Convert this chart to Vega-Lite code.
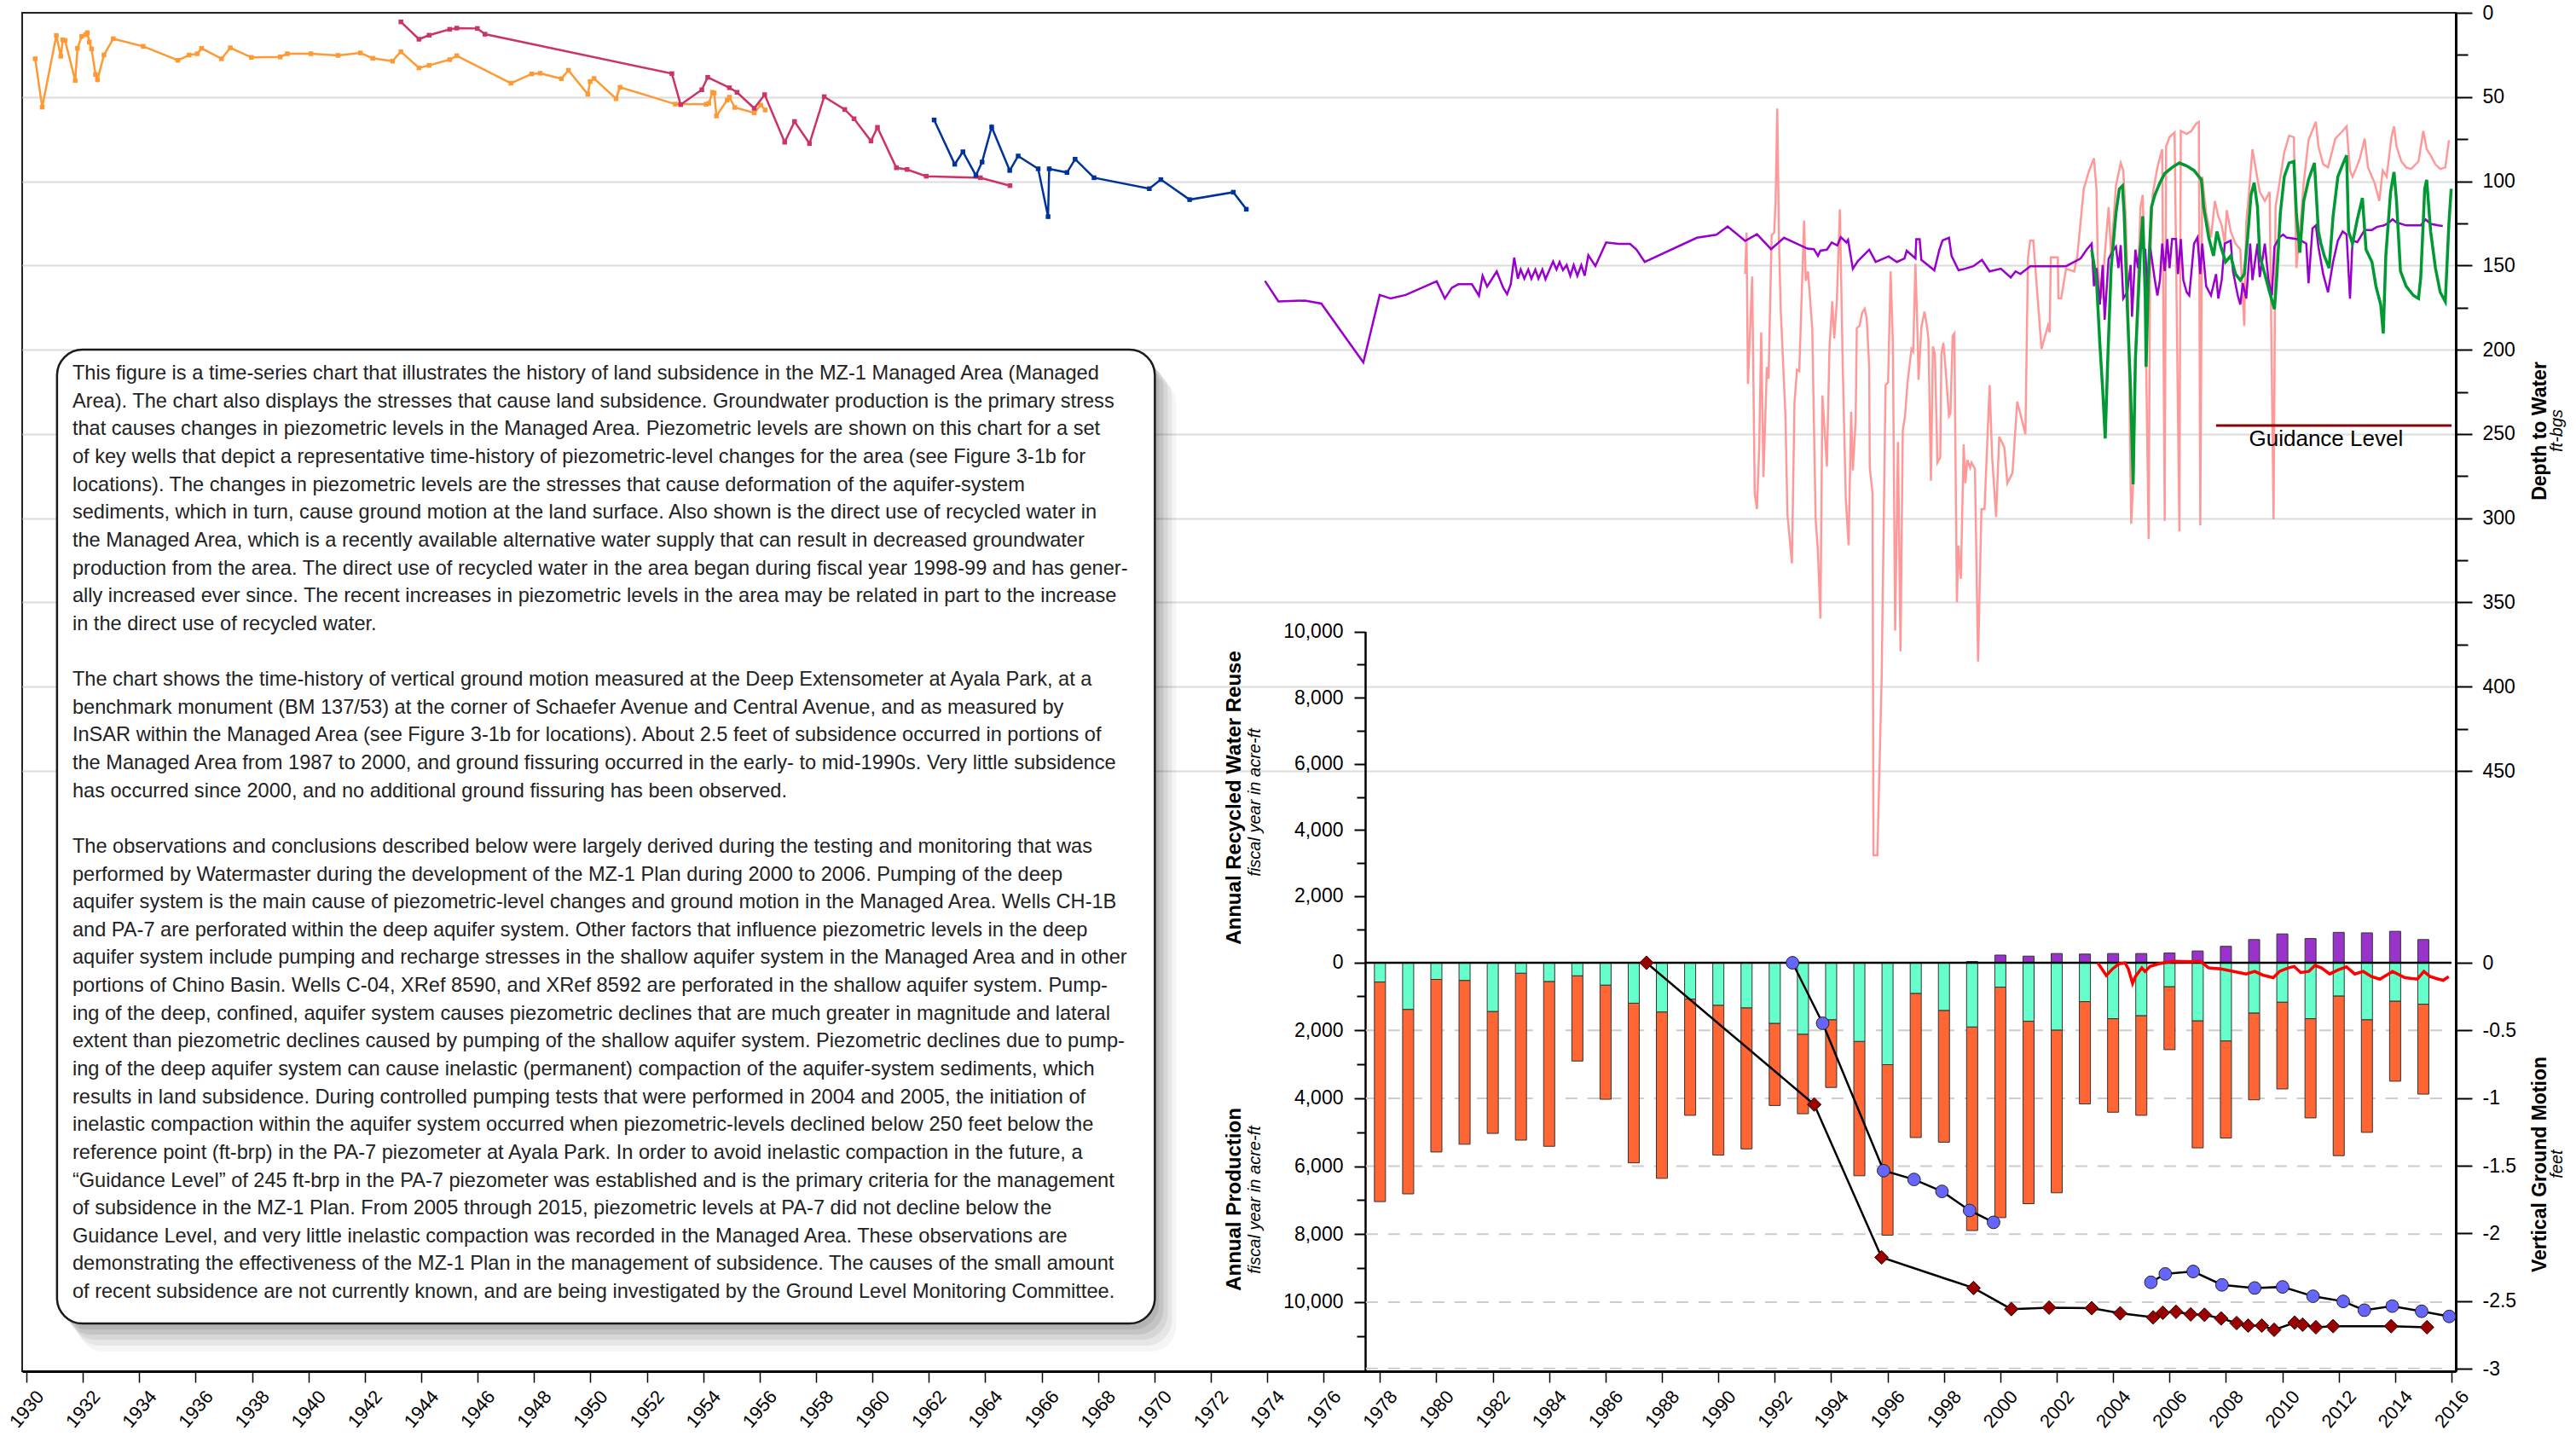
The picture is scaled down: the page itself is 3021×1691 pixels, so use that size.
{
  "$schema": "https://vega.github.io/schema/vega-lite/v6.json",
  "width": 2854,
  "height": 1593,
  "autosize": "none",
  "padding": {"left": 26, "top": 15, "right": 141, "bottom": 83},
  "background": "white",
  "config": {
    "view": {"stroke": "#222", "strokeWidth": 2},
    "font": "Liberation Sans",
    "axis": {"labelFont": "Liberation Sans", "titleFont": "Liberation Sans", "labelColor": "#000", "titleColor": "#000", "domainColor": "#000", "tickColor": "#000"}
  },
  "datasets": {
    "orange": [
      {"yr":1930.31,"d":27.3},{"yr":1930.56,"d":56.0},{"yr":1931.06,"d":13.5},{"yr":1931.22,"d":25.8},{"yr":1931.29,"d":16.0},{"yr":1931.37,"d":16.4},{"yr":1931.73,"d":40.2},{"yr":1931.81,"d":21.1},{"yr":1931.96,"d":14.0},{"yr":1932.10,"d":13.0},{"yr":1932.16,"d":11.8},{"yr":1932.23,"d":17.4},{"yr":1932.31,"d":21.4},{"yr":1932.45,"d":36.6},{"yr":1932.52,"d":39.7},{"yr":1932.75,"d":25.0},{"yr":1933.08,"d":15.4},{"yr":1934.14,"d":19.9},{"yr":1935.37,"d":28.2},{"yr":1935.77,"d":25.1},{"yr":1936.06,"d":24.3},{"yr":1936.21,"d":21.1},{"yr":1936.92,"d":27.3},{"yr":1937.23,"d":20.8},{"yr":1937.98,"d":26.5},{"yr":1939.00,"d":26.2},{"yr":1939.25,"d":24.3},{"yr":1940.09,"d":24.3},{"yr":1941.05,"d":25.3},{"yr":1941.84,"d":23.8},{"yr":1942.28,"d":27.0},{"yr":1942.98,"d":28.7},{"yr":1943.28,"d":23.1},{"yr":1943.92,"d":32.7},{"yr":1944.28,"d":31.2},{"yr":1945.01,"d":27.8},{"yr":1945.26,"d":25.5},{"yr":1947.18,"d":41.8},{"yr":1947.92,"d":36.3},{"yr":1948.22,"d":35.9},{"yr":1948.97,"d":39.1},{"yr":1949.22,"d":34.1},{"yr":1949.91,"d":48.4},{"yr":1949.99,"d":40.8},{"yr":1950.13,"d":39.0},{"yr":1950.91,"d":51.0},{"yr":1951.05,"d":44.2},{"yr":1953.01,"d":54.2},{"yr":1954.10,"d":54.3},{"yr":1954.20,"d":53.7},{"yr":1954.33,"d":47.2},{"yr":1954.39,"d":47.6},{"yr":1954.47,"d":61.2},{"yr":1954.85,"d":51.8},{"yr":1954.93,"d":50.1},{"yr":1955.12,"d":56.2},{"yr":1955.81,"d":59.4},{"yr":1956.04,"d":54.8},{"yr":1956.20,"d":57.7}
    ],
    "crimson": [
      {"yr":1943.28,"d":5.4},{"yr":1943.92,"d":15.7},{"yr":1944.28,"d":13.3},{"yr":1945.01,"d":9.8},{"yr":1945.26,"d":9.1},{"yr":1945.99,"d":9.3},{"yr":1946.26,"d":12.7},{"yr":1952.89,"d":36.1},{"yr":1953.20,"d":54.5},{"yr":1953.95,"d":45.7},{"yr":1954.16,"d":38.3},{"yr":1954.93,"d":44.5},{"yr":1955.20,"d":47.2},{"yr":1955.81,"d":56.7},{"yr":1956.18,"d":48.6},{"yr":1956.89,"d":76.8},{"yr":1957.24,"d":64.5},{"yr":1957.77,"d":77.6},{"yr":1958.29,"d":49.8},{"yr":1959.02,"d":57.4},{"yr":1959.35,"d":62.9},{"yr":1959.95,"d":76.1},{"yr":1960.18,"d":68.0},{"yr":1960.85,"d":92.0},{"yr":1961.23,"d":93.0},{"yr":1961.91,"d":97.0},{"yr":1963.83,"d":97.9},{"yr":1964.88,"d":102.6}
    ],
    "navy": [
      {"yr":1962.19,"d":63.6},{"yr":1962.92,"d":89.9},{"yr":1963.21,"d":82.5},{"yr":1963.67,"d":96.5},{"yr":1963.89,"d":88.6},{"yr":1964.23,"d":67.8},{"yr":1964.87,"d":93.6},{"yr":1965.17,"d":85.0},{"yr":1965.88,"d":92.6},{"yr":1966.23,"d":121.0},{"yr":1966.27,"d":92.6},{"yr":1966.90,"d":94.8},{"yr":1967.19,"d":86.9},{"yr":1967.86,"d":97.9},{"yr":1969.82,"d":104.4},{"yr":1970.23,"d":99.0},{"yr":1971.25,"d":110.9},{"yr":1972.80,"d":106.5},{"yr":1973.26,"d":116.6}
    ],
    "purple": [
      {"yr":1973.92,"d":159.1},{"yr":1974.40,"d":171.3},{"yr":1975.34,"d":170.8},{"yr":1975.92,"d":172.6},{"yr":1977.41,"d":207.5},{"yr":1977.99,"d":167.5},{"yr":1978.38,"d":169.6},{"yr":1978.91,"d":167.5},{"yr":1980.01,"d":159.4},{"yr":1980.30,"d":169.6},{"yr":1980.55,"d":163.2},{"yr":1980.78,"d":161.1},{"yr":1981.07,"d":161.1},{"yr":1981.26,"d":161.1},{"yr":1981.51,"d":167.9},{"yr":1981.64,"d":156.1},{"yr":1981.80,"d":162.5},{"yr":1982.14,"d":153.5},{"yr":1982.37,"d":163.2},{"yr":1982.51,"d":167.0},{"yr":1982.64,"d":161.1},{"yr":1982.76,"d":145.3},{"yr":1982.89,"d":157.8},{"yr":1982.99,"d":152.4},{"yr":1983.12,"d":157.8},{"yr":1983.26,"d":152.4},{"yr":1983.37,"d":157.8},{"yr":1983.51,"d":152.4},{"yr":1983.62,"d":157.8},{"yr":1983.76,"d":152.4},{"yr":1983.87,"d":158.1},{"yr":1984.14,"d":147.6},{"yr":1984.26,"d":152.4},{"yr":1984.37,"d":147.9},{"yr":1984.49,"d":152.7},{"yr":1984.62,"d":149.7},{"yr":1984.75,"d":156.1},{"yr":1984.87,"d":149.7},{"yr":1985.00,"d":156.1},{"yr":1985.14,"d":149.7},{"yr":1985.26,"d":156.1},{"yr":1985.39,"d":143.9},{"yr":1985.64,"d":150.3},{"yr":1986.02,"d":136.3},{"yr":1986.47,"d":137.2},{"yr":1986.87,"d":137.2},{"yr":1987.10,"d":140.6},{"yr":1987.39,"d":147.9},{"yr":1989.24,"d":133.5},{"yr":1989.93,"d":131.7},{"yr":1990.33,"d":126.8},{"yr":1990.95,"d":135.4},{"yr":1991.37,"d":131.4},{"yr":1991.87,"d":140.3},{"yr":1992.33,"d":133.5},{"yr":1993.16,"d":140.0},{"yr":1993.39,"d":140.3},{"yr":1993.53,"d":144.3},{"yr":1993.62,"d":141.2},{"yr":1993.85,"d":140.6},{"yr":1994.02,"d":136.3},{"yr":1994.22,"d":138.1},{"yr":1994.34,"d":133.2},{"yr":1994.54,"d":136.3},{"yr":1994.60,"d":134.8},{"yr":1994.77,"d":151.9},{"yr":1994.95,"d":147.3},{"yr":1995.35,"d":140.6},{"yr":1995.58,"d":147.9},{"yr":1996.04,"d":144.6},{"yr":1996.33,"d":147.9},{"yr":1996.60,"d":145.8},{"yr":1996.68,"d":141.2},{"yr":1996.99,"d":145.8},{"yr":1997.02,"d":134.4},{"yr":1997.14,"d":134.4},{"yr":1997.20,"d":146.7},{"yr":1997.66,"d":152.9},{"yr":1997.83,"d":141.2},{"yr":1997.95,"d":135.1},{"yr":1998.18,"d":133.5},{"yr":1998.27,"d":144.3},{"yr":1998.52,"d":152.9},{"yr":1998.75,"d":151.9},{"yr":1999.04,"d":150.4},{"yr":1999.35,"d":146.7},{"yr":1999.62,"d":153.5},{"yr":2000.02,"d":151.9},{"yr":2000.37,"d":157.1},{"yr":2000.54,"d":153.5},{"yr":2000.71,"d":155.0},{"yr":2001.06,"d":150.4},{"yr":2002.33,"d":150.4},{"yr":2002.85,"d":145.8},{"yr":2003.06,"d":140.6},{"yr":2003.24,"d":137.0},{"yr":2003.32,"d":162.3},{"yr":2003.41,"d":151.5},{"yr":2003.53,"d":173.2},{"yr":2003.63,"d":149.7},{"yr":2003.70,"d":182.2},{"yr":2003.84,"d":146.1},{"yr":2003.98,"d":141.5},{"yr":2004.10,"d":138.8},{"yr":2004.19,"d":151.5},{"yr":2004.27,"d":137.9},{"yr":2004.36,"d":169.6},{"yr":2004.50,"d":165.9},{"yr":2004.62,"d":149.7},{"yr":2004.67,"d":180.4},{"yr":2004.79,"d":140.6},{"yr":2004.88,"d":151.5},{"yr":2004.96,"d":138.8},{"yr":2005.14,"d":140.6},{"yr":2005.23,"d":167.8},{"yr":2005.31,"d":138.8},{"yr":2005.48,"d":158.7},{"yr":2005.57,"d":167.8},{"yr":2005.66,"d":158.7},{"yr":2005.74,"d":137.0},{"yr":2005.83,"d":153.3},{"yr":2005.92,"d":134.3},{"yr":2006.00,"d":151.5},{"yr":2006.09,"d":134.3},{"yr":2006.23,"d":134.3},{"yr":2006.30,"d":155.1},{"yr":2006.40,"d":134.3},{"yr":2006.49,"d":158.7},{"yr":2006.61,"d":165.9},{"yr":2006.70,"d":167.8},{"yr":2006.87,"d":137.0},{"yr":2006.99,"d":133.4},{"yr":2007.09,"d":155.1},{"yr":2007.16,"d":137.0},{"yr":2007.30,"d":162.3},{"yr":2007.47,"d":167.8},{"yr":2007.65,"d":155.1},{"yr":2007.73,"d":169.6},{"yr":2007.85,"d":158.7},{"yr":2007.96,"d":137.0},{"yr":2008.17,"d":135.2},{"yr":2008.25,"d":153.3},{"yr":2008.42,"d":167.8},{"yr":2008.51,"d":173.2},{"yr":2008.60,"d":160.5},{"yr":2008.72,"d":169.6},{"yr":2008.86,"d":137.0},{"yr":2008.94,"d":158.7},{"yr":2009.12,"d":137.0},{"yr":2009.20,"d":156.9},{"yr":2009.38,"d":137.0},{"yr":2009.51,"d":158.7},{"yr":2009.63,"d":167.8},{"yr":2009.72,"d":138.8},{"yr":2009.89,"d":133.4},{"yr":2010.03,"d":131.6},{"yr":2010.15,"d":133.4},{"yr":2010.50,"d":134.3},{"yr":2010.67,"d":135.2},{"yr":2010.85,"d":137.0},{"yr":2010.93,"d":160.5},{"yr":2011.07,"d":128.0},{"yr":2011.19,"d":126.2},{"yr":2011.28,"d":138.8},{"yr":2011.45,"d":155.1},{"yr":2011.62,"d":165.9},{"yr":2011.80,"d":147.9},{"yr":2011.97,"d":135.2},{"yr":2012.14,"d":129.8},{"yr":2012.28,"d":131.6},{"yr":2012.40,"d":169.6},{"yr":2012.49,"d":135.2},{"yr":2012.66,"d":136.1},{"yr":2012.92,"d":128.9},{"yr":2013.18,"d":128.9},{"yr":2013.35,"d":127.1},{"yr":2013.61,"d":126.2},{"yr":2013.79,"d":124.4},{"yr":2013.91,"d":122.6},{"yr":2014.05,"d":124.4},{"yr":2014.39,"d":126.2},{"yr":2014.74,"d":126.2},{"yr":2014.91,"d":126.2},{"yr":2015.08,"d":122.6},{"yr":2015.26,"d":125.3},{"yr":2015.52,"d":126.2},{"yr":2015.69,"d":126.5}
    ],
    "pink": [
      {"yr":1990.95,"d":155.0},{"yr":1991.00,"d":130.5},{"yr":1991.05,"d":220.3},{"yr":1991.20,"d":156.5},{"yr":1991.29,"d":285.4},{"yr":1991.37,"d":294.6},{"yr":1991.45,"d":257.8},{"yr":1991.52,"d":189.7},{"yr":1991.60,"d":275.6},{"yr":1991.72,"d":210.2},{"yr":1991.78,"d":217.3},{"yr":1991.89,"d":132.0},{"yr":1991.98,"d":130.5},{"yr":1992.03,"d":112.1},{"yr":1992.09,"d":56.8},{"yr":1992.15,"d":135.1},{"yr":1992.21,"d":175.0},{"yr":1992.38,"d":239.4},{"yr":1992.45,"d":297.7},{"yr":1992.61,"d":326.8},{"yr":1992.70,"d":231.7},{"yr":1992.79,"d":211.8},{"yr":1992.87,"d":212.7},{"yr":1993.04,"d":123.4},{"yr":1993.10,"d":159.0},{"yr":1993.18,"d":153.5},{"yr":1993.33,"d":187.2},{"yr":1993.45,"d":300.7},{"yr":1993.53,"d":319.1},{"yr":1993.62,"d":359.6},{"yr":1993.69,"d":227.1},{"yr":1993.85,"d":269.4},{"yr":1993.94,"d":199.5},{"yr":1994.04,"d":171.3},{"yr":1994.11,"d":193.3},{"yr":1994.20,"d":171.9},{"yr":1994.31,"d":116.7},{"yr":1994.41,"d":208.7},{"yr":1994.52,"d":288.4},{"yr":1994.62,"d":316.1},{"yr":1994.71,"d":236.9},{"yr":1994.77,"d":271.6},{"yr":1994.87,"d":241.8},{"yr":1994.91,"d":187.2},{"yr":1995.01,"d":185.7},{"yr":1995.10,"d":178.0},{"yr":1995.19,"d":175.6},{"yr":1995.26,"d":181.1},{"yr":1995.35,"d":210.2},{"yr":1995.37,"d":270.0},{"yr":1995.47,"d":285.4},{"yr":1995.50,"d":500.1},{"yr":1995.64,"d":500.1},{"yr":1995.79,"d":395.8},{"yr":1995.93,"d":221.0},{"yr":1996.02,"d":219.4},{"yr":1996.11,"d":153.5},{"yr":1996.19,"d":196.4},{"yr":1996.27,"d":366.7},{"yr":1996.37,"d":254.7},{"yr":1996.46,"d":379.0},{"yr":1996.54,"d":248.0},{"yr":1996.62,"d":239.4},{"yr":1996.71,"d":219.4},{"yr":1996.85,"d":199.5},{"yr":1996.91,"d":201.0},{"yr":1996.99,"d":148.9},{"yr":1997.06,"d":188.8},{"yr":1997.10,"d":217.9},{"yr":1997.20,"d":186.6},{"yr":1997.31,"d":177.4},{"yr":1997.38,"d":184.2},{"yr":1997.45,"d":193.3},{"yr":1997.54,"d":277.7},{"yr":1997.61,"d":198.0},{"yr":1997.68,"d":202.6},{"yr":1997.77,"d":267.0},{"yr":1997.87,"d":263.9},{"yr":1997.91,"d":202.6},{"yr":1997.98,"d":195.8},{"yr":1998.04,"d":207.2},{"yr":1998.18,"d":239.4},{"yr":1998.23,"d":237.8},{"yr":1998.31,"d":191.8},{"yr":1998.37,"d":190.3},{"yr":1998.41,"d":262.4},{"yr":1998.46,"d":349.8},{"yr":1998.51,"d":316.1},{"yr":1998.60,"d":336.0},{"yr":1998.70,"d":256.2},{"yr":1998.76,"d":279.2},{"yr":1998.83,"d":265.4},{"yr":1998.93,"d":270.0},{"yr":1998.98,"d":267.0},{"yr":1999.10,"d":270.7},{"yr":1999.21,"d":385.1},{"yr":1999.33,"d":294.6},{"yr":1999.44,"d":294.6},{"yr":1999.62,"d":221.0},{"yr":1999.71,"d":263.9},{"yr":1999.85,"d":299.2},{"yr":1999.96,"d":251.6},{"yr":2000.14,"d":257.8},{"yr":2000.25,"d":279.2},{"yr":2000.43,"d":273.1},{"yr":2000.60,"d":230.8},{"yr":2000.89,"d":250.1},{"yr":2000.98,"d":145.8},{"yr":2001.06,"d":135.1},{"yr":2001.17,"d":135.1},{"yr":2001.46,"d":199.5},{"yr":2001.69,"d":185.7},{"yr":2001.75,"d":189.7},{"yr":2001.79,"d":145.2},{"yr":2002.04,"d":145.2},{"yr":2002.06,"d":169.4},{"yr":2002.16,"d":169.4},{"yr":2002.33,"d":151.9},{"yr":2002.62,"d":153.5},{"yr":2002.73,"d":144.3},{"yr":2002.96,"d":104.4},{"yr":2003.15,"d":93.6},{"yr":2003.32,"d":86.4},{"yr":2003.41,"d":104.5},{"yr":2003.46,"d":151.5},{"yr":2003.58,"d":169.6},{"yr":2003.84,"d":115.3},{"yr":2003.93,"d":144.3},{"yr":2004.10,"d":102.7},{"yr":2004.27,"d":89.1},{"yr":2004.36,"d":93.6},{"yr":2004.45,"d":122.6},{"yr":2004.53,"d":169.6},{"yr":2004.64,"d":303.3},{"yr":2004.71,"d":279.9},{"yr":2004.79,"d":205.7},{"yr":2004.97,"d":115.3},{"yr":2005.05,"d":108.1},{"yr":2005.14,"d":169.6},{"yr":2005.26,"d":312.4},{"yr":2005.31,"d":151.5},{"yr":2005.40,"d":108.1},{"yr":2005.57,"d":91.8},{"yr":2005.74,"d":81.0},{"yr":2005.83,"d":301.5},{"yr":2005.88,"d":79.2},{"yr":2006.00,"d":73.8},{"yr":2006.18,"d":71.0},{"yr":2006.35,"d":307.9},{"yr":2006.40,"d":70.1},{"yr":2006.61,"d":71.9},{"yr":2006.78,"d":70.1},{"yr":2006.95,"d":65.6},{"yr":2007.04,"d":64.7},{"yr":2007.09,"d":304.2},{"yr":2007.16,"d":97.3},{"yr":2007.30,"d":118.9},{"yr":2007.47,"d":133.4},{"yr":2007.61,"d":111.7},{"yr":2007.73,"d":120.8},{"yr":2007.85,"d":126.2},{"yr":2007.96,"d":137.0},{"yr":2008.03,"d":117.1},{"yr":2008.17,"d":129.8},{"yr":2008.34,"d":137.0},{"yr":2008.51,"d":140.6},{"yr":2008.65,"d":185.8},{"yr":2008.72,"d":124.4},{"yr":2008.82,"d":106.3},{"yr":2008.94,"d":81.0},{"yr":2009.03,"d":90.0},{"yr":2009.20,"d":106.3},{"yr":2009.38,"d":111.7},{"yr":2009.55,"d":106.3},{"yr":2009.69,"d":300.6},{"yr":2009.76,"d":115.3},{"yr":2009.90,"d":100.9},{"yr":2010.07,"d":82.8},{"yr":2010.24,"d":72.9},{"yr":2010.41,"d":73.8},{"yr":2010.50,"d":151.5},{"yr":2010.62,"d":129.8},{"yr":2010.76,"d":100.9},{"yr":2010.93,"d":75.6},{"yr":2011.19,"d":64.7},{"yr":2011.28,"d":79.2},{"yr":2011.45,"d":90.0},{"yr":2011.62,"d":91.8},{"yr":2011.88,"d":74.7},{"yr":2012.14,"d":70.1},{"yr":2012.28,"d":67.4},{"yr":2012.40,"d":93.6},{"yr":2012.49,"d":97.3},{"yr":2012.63,"d":91.8},{"yr":2012.75,"d":86.4},{"yr":2012.92,"d":74.7},{"yr":2013.04,"d":91.8},{"yr":2013.27,"d":100.9},{"yr":2013.44,"d":111.7},{"yr":2013.56,"d":93.6},{"yr":2013.70,"d":97.3},{"yr":2013.87,"d":73.8},{"yr":2013.96,"d":67.4},{"yr":2014.05,"d":79.2},{"yr":2014.22,"d":88.2},{"yr":2014.39,"d":91.8},{"yr":2014.57,"d":92.7},{"yr":2014.83,"d":88.2},{"yr":2015.00,"d":70.1},{"yr":2015.12,"d":81.0},{"yr":2015.26,"d":84.6},{"yr":2015.43,"d":90.0},{"yr":2015.60,"d":92.7},{"yr":2015.78,"d":91.8},{"yr":2015.91,"d":75.6}
    ],
    "green": [
      {"yr":2003.24,"d":140.6},{"yr":2003.41,"d":158.7},{"yr":2003.53,"d":196.7},{"yr":2003.63,"d":223.8},{"yr":2003.72,"d":252.7},{"yr":2003.81,"d":205.7},{"yr":2003.93,"d":151.5},{"yr":2004.10,"d":118.9},{"yr":2004.22,"d":104.5},{"yr":2004.33,"d":102.7},{"yr":2004.39,"d":118.9},{"yr":2004.50,"d":173.2},{"yr":2004.62,"d":223.8},{"yr":2004.71,"d":279.9},{"yr":2004.79,"d":205.7},{"yr":2004.97,"d":140.6},{"yr":2005.05,"d":120.8},{"yr":2005.14,"d":169.6},{"yr":2005.17,"d":210.2},{"yr":2005.26,"d":151.5},{"yr":2005.36,"d":115.3},{"yr":2005.48,"d":108.1},{"yr":2005.66,"d":100.9},{"yr":2005.83,"d":95.4},{"yr":2006.09,"d":91.8},{"yr":2006.35,"d":89.1},{"yr":2006.61,"d":90.9},{"yr":2006.87,"d":93.6},{"yr":2007.13,"d":99.1},{"yr":2007.21,"d":115.3},{"yr":2007.39,"d":133.4},{"yr":2007.56,"d":144.3},{"yr":2007.68,"d":129.8},{"yr":2007.82,"d":138.8},{"yr":2007.99,"d":147.9},{"yr":2008.17,"d":144.3},{"yr":2008.34,"d":155.1},{"yr":2008.51,"d":158.7},{"yr":2008.65,"d":155.1},{"yr":2008.77,"d":133.4},{"yr":2008.89,"d":108.1},{"yr":2009.00,"d":100.9},{"yr":2009.12,"d":115.3},{"yr":2009.20,"d":144.3},{"yr":2009.38,"d":155.1},{"yr":2009.55,"d":165.9},{"yr":2009.72,"d":175.9},{"yr":2009.81,"d":155.1},{"yr":2009.93,"d":118.9},{"yr":2010.07,"d":97.3},{"yr":2010.24,"d":89.1},{"yr":2010.41,"d":88.2},{"yr":2010.50,"d":118.9},{"yr":2010.62,"d":142.4},{"yr":2010.76,"d":111.7},{"yr":2010.93,"d":99.1},{"yr":2011.14,"d":89.1},{"yr":2011.28,"d":129.8},{"yr":2011.37,"d":137.0},{"yr":2011.49,"d":144.3},{"yr":2011.66,"d":151.5},{"yr":2011.80,"d":120.8},{"yr":2011.97,"d":97.3},{"yr":2012.14,"d":90.0},{"yr":2012.28,"d":84.6},{"yr":2012.35,"d":129.8},{"yr":2012.49,"d":137.0},{"yr":2012.66,"d":122.6},{"yr":2012.84,"d":109.9},{"yr":2012.97,"d":140.6},{"yr":2013.18,"d":147.9},{"yr":2013.32,"d":162.3},{"yr":2013.49,"d":173.2},{"yr":2013.58,"d":190.4},{"yr":2013.67,"d":144.3},{"yr":2013.84,"d":106.3},{"yr":2013.96,"d":94.5},{"yr":2014.05,"d":111.7},{"yr":2014.19,"d":153.3},{"yr":2014.39,"d":162.3},{"yr":2014.65,"d":167.8},{"yr":2014.83,"d":169.6},{"yr":2014.91,"d":156.9},{"yr":2015.05,"d":104.5},{"yr":2015.12,"d":99.1},{"yr":2015.26,"d":129.8},{"yr":2015.43,"d":151.5},{"yr":2015.60,"d":165.9},{"yr":2015.78,"d":171.4},{"yr":2015.91,"d":124.4},{"yr":2015.99,"d":104.5}
    ],
    "prod": [
      {"fy":1978,"a":578,"t":7042},{"fy":1979,"a":1384,"t":6814},{"fy":1980,"a":502,"t":5582},{"fy":1981,"a":532,"t":5354},{"fy":1982,"a":1445,"t":5034},{"fy":1983,"a":319,"t":5232},{"fy":1984,"a":563,"t":5414},{"fy":1985,"a":395,"t":2905},{"fy":1986,"a":669,"t":4030},{"fy":1987,"a":1202,"t":5901},{"fy":1988,"a":1460,"t":6357},{"fy":1989,"a":1080,"t":4502},{"fy":1990,"a":1262,"t":5673},{"fy":1991,"a":1338,"t":5490},{"fy":1992,"a":1795,"t":4213},{"fy":1993,"a":2114,"t":4456},{"fy":1994,"a":1688,"t":3681},{"fy":1995,"a":2327,"t":6281},{"fy":1996,"a":3011,"t":8030},{"fy":1997,"a":913,"t":5156},{"fy":1998,"a":1414,"t":5293},{"fy":1999,"a":1901,"t":7893},{"fy":2000,"a":730,"t":7513},{"fy":2001,"a":1734,"t":7103},{"fy":2002,"a":1992,"t":6783},{"fy":2003,"a":1156,"t":4167},{"fy":2004,"a":1658,"t":4411},{"fy":2005,"a":1567,"t":4502},{"fy":2006,"a":715,"t":2570},{"fy":2007,"a":1719,"t":5460},{"fy":2008,"a":2312,"t":5171},{"fy":2009,"a":1490,"t":4046},{"fy":2010,"a":1171,"t":3726},{"fy":2011,"a":1658,"t":4578},{"fy":2012,"a":989,"t":5688},{"fy":2013,"a":1688,"t":5004},{"fy":2014,"a":1141,"t":3498},{"fy":2015,"a":1232,"t":3878}
    ],
    "recy": [
      {"fy":1999,"r":25},{"fy":2000,"r":219},{"fy":2001,"r":188},{"fy":2002,"r":266},{"fy":2003,"r":250},{"fy":2004,"r":266},{"fy":2005,"r":266},{"fy":2006,"r":281},{"fy":2007,"r":344},{"fy":2008,"r":484},{"fy":2009,"r":688},{"fy":2010,"r":859},{"fy":2011,"r":719},{"fy":2012,"r":906},{"fy":2013,"r":891},{"fy":2014,"r":938},{"fy":2015,"r":688}
    ],
    "insar": [
      {"yr":2003.46,"g":-0.001},{"yr":2003.76,"g":-0.094},{"yr":2003.98,"g":-0.045},{"yr":2004.20,"g":-0.008},{"yr":2004.42,"g":-0.001},{"yr":2004.54,"g":-0.045},{"yr":2004.69,"g":-0.152},{"yr":2004.79,"g":-0.102},{"yr":2005.02,"g":-0.038},{"yr":2005.13,"g":-0.064},{"yr":2005.31,"g":-0.027},{"yr":2005.61,"g":-0.008},{"yr":2005.90,"g":0.003},{"yr":2006.20,"g":0.011},{"yr":2006.79,"g":0.008},{"yr":2007.09,"g":0.011},{"yr":2007.39,"g":-0.038},{"yr":2007.83,"g":-0.045},{"yr":2008.28,"g":-0.064},{"yr":2008.72,"g":-0.083},{"yr":2009.02,"g":-0.064},{"yr":2009.31,"g":-0.091},{"yr":2009.68,"g":-0.110},{"yr":2009.90,"g":-0.064},{"yr":2010.20,"g":-0.038},{"yr":2010.42,"g":-0.027},{"yr":2010.65,"g":-0.072},{"yr":2010.94,"g":-0.064},{"yr":2011.16,"g":-0.019},{"yr":2011.39,"g":-0.038},{"yr":2011.68,"g":-0.083},{"yr":2011.98,"g":-0.053},{"yr":2012.27,"g":-0.030},{"yr":2012.57,"g":-0.083},{"yr":2012.87,"g":-0.064},{"yr":2013.16,"g":-0.102},{"yr":2013.46,"g":-0.121},{"yr":2013.61,"g":-0.102},{"yr":2013.91,"g":-0.064},{"yr":2014.35,"g":-0.110},{"yr":2014.79,"g":-0.121},{"yr":2015.02,"g":-0.064},{"yr":2015.24,"g":-0.102},{"yr":2015.54,"g":-0.121},{"yr":2015.71,"g":-0.129},{"yr":2015.90,"g":-0.102}
    ],
    "ext": [
      {"yr":1987.45,"g":0},{"yr":1993.40,"g":-1.047},{"yr":1995.79,"g":-2.177},{"yr":1999.05,"g":-2.403},{"yr":2000.39,"g":-2.559},{"yr":2001.73,"g":-2.548},{"yr":2003.24,"g":-2.552},{"yr":2004.25,"g":-2.590},{"yr":2005.42,"g":-2.620},{"yr":2005.76,"g":-2.586},{"yr":2006.23,"g":-2.579},{"yr":2006.75,"g":-2.598},{"yr":2007.24,"g":-2.601},{"yr":2007.83,"g":-2.628},{"yr":2008.38,"g":-2.662},{"yr":2008.79,"g":-2.681},{"yr":2009.27,"g":-2.681},{"yr":2009.71,"g":-2.712},{"yr":2010.44,"g":-2.659},{"yr":2010.72,"g":-2.674},{"yr":2011.19,"g":-2.693},{"yr":2011.80,"g":-2.685},{"yr":2013.86,"g":-2.685},{"yr":2015.13,"g":-2.693}
    ],
    "bm": [
      {"yr":1992.63,"g":0,"seg":1},{"yr":1993.70,"g":-0.447,"seg":1},{"yr":1995.86,"g":-1.536,"seg":1},{"yr":1996.94,"g":-1.601,"seg":1},{"yr":1997.93,"g":-1.689,"seg":1},{"yr":1998.91,"g":-1.830,"seg":1},{"yr":1999.76,"g":-1.918,"seg":1},
      {"yr":2005.34,"g":-2.361,"seg":2},{"yr":2005.85,"g":-2.299,"seg":2},{"yr":2006.84,"g":-2.281,"seg":2},{"yr":2007.86,"g":-2.380,"seg":2},{"yr":2009.02,"g":-2.403,"seg":2},{"yr":2010.01,"g":-2.395,"seg":2},{"yr":2011.09,"g":-2.464,"seg":2},{"yr":2012.16,"g":-2.502,"seg":2},{"yr":2012.91,"g":-2.567,"seg":2},{"yr":2013.90,"g":-2.537,"seg":2},{"yr":2014.94,"g":-2.575,"seg":2},{"yr":2015.92,"g":-2.613,"seg":2}
    ]
  },
  "resolve": {"scale": {"y": "independent"}, "axis": {"y": "independent"}},
  "layer": [
    {
      "layer": [
        {
          "data": {"name": "pink"},
          "mark": {"type": "line", "color": "#FF9999", "strokeWidth": 2.5},
          "encoding": {
            "x": {"field": "yr", "type": "quantitative", "scale": {"domain": [1930, 2016], "nice": false, "zero": false},
              "axis": {
                "orient": "bottom",
                "values": [1930,1931,1932,1933,1934,1935,1936,1937,1938,1939,1940,1941,1942,1943,1944,1945,1946,1947,1948,1949,1950,1951,1952,1953,1954,1955,1956,1957,1958,1959,1960,1961,1962,1963,1964,1965,1966,1967,1968,1969,1970,1971,1972,1973,1974,1975,1976,1977,1978,1979,1980,1981,1982,1983,1984,1985,1986,1987,1988,1989,1990,1991,1992,1993,1994,1995,1996,1997,1998,1999,2000,2001,2002,2003,2004,2005,2006,2007,2008,2009,2010,2011,2012,2013,2014,2015,2016],
                "format": "d",
                "labelExpr": "datum.value % 2 === 0 ? datum.label : ''",
                "tickSize": {"condition": {"test": "datum.value % 2 === 0", "value": 13}, "value": 6},
                "tickWidth": 1.5,
                "domainWidth": 3,
                "grid": false,
                "labelAngle": -50,
                "labelAlign": "center",
                "labelBaseline": "middle",
                "labelPadding": 31,
                "labelFontSize": 22,
                "labelOverlap": false,
                "labelFlush": false,
                "title": null
              }
            },
            "y": {"field": "d", "type": "quantitative", "scale": {"domain": [0, 806.3], "reverse": true, "nice": false, "zero": false},
              "axis": {
                "orient": "right",
                "values": [0,25,50,75,100,125,150,175,200,225,250,275,300,325,350,375,400,425,450],
                "labelExpr": "datum.value % 50 === 0 ? datum.label : ''",
                "tickSize": {"condition": {"test": "datum.value % 50 === 0", "value": 19}, "value": 14},
                "tickWidth": 2,
                "domainWidth": 3,
                "grid": true,
                "gridColor": "#dcdcdc",
                "gridWidth": 2,
                "gridOpacity": {"condition": {"test": "datum.value % 50 === 0 && datum.value > 0", "value": 1}, "value": 0},
                "labelFontSize": 23,
                "labelPadding": 12,
                "labelOverlap": false,
                "labelFlush": false,
                "title": "Depth to Water",
                "titleFontSize": 23,
                "titleFontWeight": "bold",
                "titleAngle": -90,
                "titleX": 98,
                "titleY": 490,
                "titleAlign": "center",
                "titleBaseline": "middle"
              }
            }
          }
        },
        {
          "data": {"name": "purple"},
          "mark": {"type": "line", "color": "#9900CC", "strokeWidth": 2.5},
          "encoding": {"x": {"field": "yr", "type": "quantitative"}, "y": {"field": "d", "type": "quantitative"}}
        },
        {
          "data": {"name": "green"},
          "mark": {"type": "line", "color": "#009933", "strokeWidth": 3.5},
          "encoding": {"x": {"field": "yr", "type": "quantitative"}, "y": {"field": "d", "type": "quantitative"}}
        },
        {
          "data": {"name": "orange"},
          "mark": {"type": "line", "color": "#FF9933", "strokeWidth": 2.5, "point": {"shape": "square", "size": 30, "filled": true, "color": "#FF9933"}},
          "encoding": {"x": {"field": "yr", "type": "quantitative"}, "y": {"field": "d", "type": "quantitative"}}
        },
        {
          "data": {"name": "crimson"},
          "mark": {"type": "line", "color": "#CC3366", "strokeWidth": 2.5, "point": {"shape": "square", "size": 30, "filled": true, "color": "#CC3366"}},
          "encoding": {"x": {"field": "yr", "type": "quantitative"}, "y": {"field": "d", "type": "quantitative"}}
        },
        {
          "data": {"name": "navy"},
          "mark": {"type": "line", "color": "#003399", "strokeWidth": 2.5, "point": {"shape": "square", "size": 30, "filled": true, "color": "#003399"}},
          "encoding": {"x": {"field": "yr", "type": "quantitative"}, "y": {"field": "d", "type": "quantitative"}}
        },
        {
          "data": {"values": [{}]},
          "mark": {"type": "rule", "color": "#8B0000", "strokeWidth": 3},
          "encoding": {"x": {"datum": 2007.65, "type": "quantitative"}, "x2": {"datum": 2016}, "y": {"datum": 245, "type": "quantitative"}}
        },
        {
          "data": {"values": [{}]},
          "mark": {"type": "text", "text": "Guidance Level", "font": "Liberation Sans", "fontSize": 26, "align": "center", "baseline": "alphabetic", "color": "#000"},
          "encoding": {"x": {"datum": 2011.55, "type": "quantitative"}, "y": {"datum": 257, "type": "quantitative"}}
        },
        {
          "data": {"values": [{}]},
          "mark": {"type": "text", "text": "ft-bgs", "font": "Liberation Sans", "fontSize": 20, "fontStyle": "italic", "angle": 270, "align": "center", "baseline": "middle", "color": "#000"},
          "encoding": {"x": {"datum": 2019.74, "type": "quantitative"}, "y": {"datum": 248, "type": "quantitative"}}
        },
        {
          "data": {"values": [{}]},
          "mark": {"type": "rect", "cornerRadius": 30, "fill": "#000", "opacity": 0.08, "xOffset": 5, "x2Offset": 5, "yOffset": 7, "y2Offset": 7},
          "encoding": {"x": {"datum": 1931.085, "type": "quantitative"}, "x2": {"datum": 1970.017}, "y": {"datum": 199.94, "type": "quantitative"}, "y2": {"datum": 778.0}}
        },
        {
          "data": {"values": [{}]},
          "mark": {"type": "rect", "cornerRadius": 30, "fill": "#000", "opacity": 0.08, "xOffset": 10, "x2Offset": 10, "yOffset": 13, "y2Offset": 13},
          "encoding": {"x": {"datum": 1931.085, "type": "quantitative"}, "x2": {"datum": 1970.017}, "y": {"datum": 199.94, "type": "quantitative"}, "y2": {"datum": 778.0}}
        },
        {
          "data": {"values": [{}]},
          "mark": {"type": "rect", "cornerRadius": 30, "fill": "#000", "opacity": 0.07, "xOffset": 15, "x2Offset": 15, "yOffset": 19, "y2Offset": 19},
          "encoding": {"x": {"datum": 1931.085, "type": "quantitative"}, "x2": {"datum": 1970.017}, "y": {"datum": 199.94, "type": "quantitative"}, "y2": {"datum": 778.0}}
        },
        {
          "data": {"values": [{}]},
          "mark": {"type": "rect", "cornerRadius": 30, "fill": "#000", "opacity": 0.06, "xOffset": 20, "x2Offset": 20, "yOffset": 26, "y2Offset": 26},
          "encoding": {"x": {"datum": 1931.085, "type": "quantitative"}, "x2": {"datum": 1970.017}, "y": {"datum": 199.94, "type": "quantitative"}, "y2": {"datum": 778.0}}
        },
        {
          "data": {"values": [{}]},
          "mark": {"type": "rect", "cornerRadius": 30, "fill": "#000", "opacity": 0.04, "xOffset": 25, "x2Offset": 25, "yOffset": 33, "y2Offset": 33},
          "encoding": {"x": {"datum": 1931.085, "type": "quantitative"}, "x2": {"datum": 1970.017}, "y": {"datum": 199.94, "type": "quantitative"}, "y2": {"datum": 778.0}}
        },
        {
          "data": {"values": [{}]},
          "mark": {"type": "rect", "cornerRadius": 30, "fill": "#ffffff", "stroke": "#1a1a1a", "strokeWidth": 2.5},
          "encoding": {"x": {"datum": 1931.085, "type": "quantitative"}, "x2": {"datum": 1970.017}, "y": {"datum": 199.94, "type": "quantitative"}, "y2": {"datum": 778.0}}
        },
        {
          "data": {"values": [{}]},
          "mark": {"type": "text", "font": "Liberation Sans", "fontSize": 23.6, "align": "left", "baseline": "alphabetic", "lineHeight": 32.64, "color": "#222",
            "text": [
              "This figure is a time-series chart that illustrates the history of land subsidence in the MZ-1 Managed Area (Managed",
              "Area). The chart also displays the stresses that cause land subsidence. Groundwater production is the primary stress",
              "that causes changes in piezometric levels in the Managed Area. Piezometric levels are shown on this chart for a set",
              "of key wells that depict a representative time-history of piezometric-level changes for the area (see Figure 3-1b for",
              "locations). The changes in piezometric levels are the stresses that cause deformation of the aquifer-system",
              "sediments, which in turn, cause ground motion at the land surface. Also shown is the direct use of recycled water in",
              "the Managed Area, which is a recently available alternative water supply that can result in decreased groundwater",
              "production from the area. The direct use of recycled water in the area began during fiscal year 1998-99 and has gener-",
              "ally increased ever since. The recent increases in piezometric levels in the area may be related in part to the increase",
              "in the direct use of recycled water."
            ]
          },
          "encoding": {"x": {"datum": 1931.63, "type": "quantitative"}, "y": {"datum": 217.7, "type": "quantitative"}}
        },
        {
          "data": {"values": [{}]},
          "mark": {"type": "text", "font": "Liberation Sans", "fontSize": 23.6, "align": "left", "baseline": "alphabetic", "lineHeight": 32.64, "color": "#222",
            "text": [
              "The chart shows the time-history of vertical ground motion measured at the Deep Extensometer at Ayala Park, at a",
              "benchmark monument (BM 137/53) at the corner of Schaefer Avenue and Central Avenue, and as measured by",
              "InSAR within the Managed Area (see Figure 3-1b for locations). About 2.5 feet of subsidence occurred in portions of",
              "the Managed Area from 1987 to 2000, and ground fissuring occurred in the early- to mid-1990s. Very little subsidence",
              "has occurred since 2000, and no additional ground fissuring has been observed."
            ]
          },
          "encoding": {"x": {"datum": 1931.63, "type": "quantitative"}, "y": {"datum": 399.4, "type": "quantitative"}}
        },
        {
          "data": {"values": [{}]},
          "mark": {"type": "text", "font": "Liberation Sans", "fontSize": 23.6, "align": "left", "baseline": "alphabetic", "lineHeight": 32.64, "color": "#222",
            "text": [
              "The observations and conclusions described below were largely derived during the testing and monitoring that was",
              "performed by Watermaster during the development of the MZ-1 Plan during 2000 to 2006. Pumping of the deep",
              "aquifer system is the main cause of piezometric-level changes and ground motion in the Managed Area. Wells CH-1B",
              "and PA-7 are perforated within the deep aquifer system. Other factors that influence piezometric levels in the deep",
              "aquifer system include pumping and recharge stresses in the shallow aquifer system in the Managed Area and in other",
              "portions of Chino Basin.  Wells C-04, XRef 8590, and XRef 8592 are perforated in the shallow aquifer system. Pump-",
              "ing of the deep, confined, aquifer system causes piezometric declines that are much greater in magnitude and lateral",
              "extent than piezometric declines caused by pumping of the shallow aquifer system. Piezometric declines due to pump-",
              "ing of the deep aquifer system can cause inelastic (permanent) compaction of the aquifer-system sediments, which",
              "results in land subsidence. During controlled pumping tests that were performed in 2004 and 2005, the initiation of",
              "inelastic compaction within the aquifer system occurred when piezometric-levels declined below 250 feet below the",
              "reference point (ft-brp) in the PA-7 piezometer at Ayala Park. In order to avoid inelastic compaction in the future, a",
              "“Guidance Level” of 245 ft-brp in the PA-7 piezometer was established and is the primary criteria for the management",
              "of subsidence in the MZ-1 Plan. From 2005 through 2015, piezometric levels at PA-7 did not decline below the",
              "Guidance Level, and very little inelastic compaction was recorded in the Managed Area. These observations are",
              "demonstrating the effectiveness of the MZ-1 Plan in the management of subsidence.  The causes of the small amount",
              "of recent subsidence are not currently known, and are being investigated by the Ground Level Monitoring Committee."
            ]
          },
          "encoding": {"x": {"datum": 1931.63, "type": "quantitative"}, "y": {"datum": 498.5, "type": "quantitative"}}
        }
      ]
    },
    {
      "layer": [
        {
          "data": {"values": [{"v": 2000}, {"v": 4000}, {"v": 6000}, {"v": 8000}, {"v": 10000}, {"v": 11950}]},
          "mark": {"type": "rule", "stroke": "#cccccc", "strokeWidth": 2, "strokeDash": [14, 12]},
          "encoding": {
            "x": {"datum": 1977.5, "type": "quantitative"},
            "x2": {"datum": 2016},
            "y": {"field": "v", "type": "quantitative", "scale": {"domain": [0, 12033], "range": [1113.5, 1593], "nice": false, "zero": false}}
          }
        },
        {
          "data": {"name": "prod"},
          "mark": {"type": "bar", "width": 13, "fill": "#FF6633", "stroke": "#333", "strokeWidth": 1},
          "encoding": {
            "x": {"field": "fy", "type": "quantitative"},
            "y": {"field": "t", "type": "quantitative",
              "axis": {
                "orient": "left",
                "offset": -1575,
                "values": [1000,2000,3000,4000,5000,6000,7000,8000,9000,10000,11000],
                "format": ",d",
                "labelExpr": "datum.value % 2000 === 0 ? datum.label : ''",
                "tickSize": {"condition": {"test": "datum.value % 2000 === 0", "value": 13}, "value": 10},
                "tickWidth": 2,
                "domainWidth": 2.5,
                "grid": false,
                "labelFontSize": 23,
                "labelPadding": 13,
                "labelOverlap": false,
                "labelFlush": false,
                "title": "Annual Production",
                "titleFontSize": 24,
                "titleFontWeight": "bold",
                "titleAngle": -90,
                "titleX": -154,
                "titleY": 1391,
                "titleAlign": "center",
                "titleBaseline": "middle"
              }
            },
            "y2": {"field": "a"}
          }
        },
        {
          "data": {"name": "prod"},
          "mark": {"type": "bar", "width": 13, "fill": "#66FFCC", "stroke": "#333", "strokeWidth": 1},
          "encoding": {
            "x": {"field": "fy", "type": "quantitative"},
            "y": {"field": "a", "type": "quantitative"},
            "y2": {"datum": 0}
          }
        },
        {
          "data": {"values": [{}]},
          "mark": {"type": "text", "text": "fiscal year in acre-ft", "font": "Liberation Sans", "fontSize": 20, "fontStyle": "italic", "angle": 270, "align": "center", "baseline": "middle", "color": "#000"},
          "encoding": {"x": {"datum": 1973.573, "type": "quantitative"}, "y": {"datum": 6989, "type": "quantitative"}}
        }
      ]
    },
    {
      "layer": [
        {
          "data": {"name": "recy"},
          "mark": {"type": "bar", "width": 13, "fill": "#9933CC", "stroke": "#333", "strokeWidth": 1},
          "encoding": {
            "x": {"field": "fy", "type": "quantitative"},
            "y": {"field": "r", "type": "quantitative", "scale": {"domain": [0, 10000], "range": [1113.5, 725.6], "nice": false, "zero": false},
              "axis": {
                "orient": "left",
                "offset": -1575,
                "values": [0,1000,2000,3000,4000,5000,6000,7000,8000,9000,10000],
                "format": ",d",
                "labelExpr": "datum.value % 2000 === 0 ? datum.label : ''",
                "tickSize": {"condition": {"test": "datum.value % 2000 === 0", "value": 13}, "value": 10},
                "tickWidth": 2,
                "domainWidth": 2.5,
                "grid": false,
                "labelFontSize": 23,
                "labelPadding": 13,
                "labelOverlap": false,
                "labelFlush": false,
                "title": "Annual Recycled Water Reuse",
                "titleFontSize": 24,
                "titleFontWeight": "bold",
                "titleAngle": -90,
                "titleX": -154,
                "titleY": 920,
                "titleAlign": "center",
                "titleBaseline": "middle"
              }
            },
            "y2": {"datum": 0}
          }
        },
        {
          "data": {"values": [{}]},
          "mark": {"type": "text", "text": "fiscal year in acre-ft", "font": "Liberation Sans", "fontSize": 20, "fontStyle": "italic", "angle": 270, "align": "center", "baseline": "middle", "color": "#000"},
          "encoding": {"x": {"datum": 1973.573, "type": "quantitative"}, "y": {"datum": 4834, "type": "quantitative"}}
        }
      ]
    },
    {
      "layer": [
        {
          "data": {"values": [{}]},
          "mark": {"type": "rule", "color": "#000", "strokeWidth": 2.5},
          "encoding": {"x": {"datum": 1977.5, "type": "quantitative"}, "x2": {"datum": 2016}, "y": {"datum": 0, "type": "quantitative", "scale": {"domain": [-3.018, 7.0195], "nice": false, "zero": false}}}
        },
        {
          "data": {"name": "insar"},
          "mark": {"type": "line", "color": "#FF0000", "strokeWidth": 3.5},
          "encoding": {
            "x": {"field": "yr", "type": "quantitative"},
            "y": {"field": "g", "type": "quantitative",
              "axis": {
                "orient": "right",
                "values": [0, -0.5, -1, -1.5, -2, -2.5, -3],
                "labelExpr": "datum.value == 0 ? '0' : '-' + format(-datum.value, '~g')",
                "tickSize": 19,
                "tickWidth": 2,
                "domainWidth": 3,
                "grid": false,
                "labelFontSize": 23,
                "labelPadding": 12,
                "labelOverlap": false,
                "labelFlush": false,
                "title": "Vertical Ground Motion",
                "titleFontSize": 23,
                "titleFontWeight": "bold",
                "titleAngle": -90,
                "titleX": 98,
                "titleY": 1350,
                "titleAlign": "center",
                "titleBaseline": "middle"
              }
            }
          }
        },
        {
          "data": {"name": "ext"},
          "mark": {"type": "line", "color": "#000", "strokeWidth": 2.5, "point": {"shape": "diamond", "size": 260, "filled": true, "fill": "#990000", "stroke": "#330000", "strokeWidth": 1}},
          "encoding": {"x": {"field": "yr", "type": "quantitative"}, "y": {"field": "g", "type": "quantitative"}}
        },
        {
          "data": {"name": "bm"},
          "mark": {"type": "line", "color": "#000", "strokeWidth": 2.5, "point": {"shape": "circle", "size": 220, "filled": true, "fill": "#6666FF", "stroke": "#222", "strokeWidth": 1}},
          "encoding": {"x": {"field": "yr", "type": "quantitative"}, "y": {"field": "g", "type": "quantitative"}, "detail": {"field": "seg", "type": "nominal"}}
        },
        {
          "data": {"values": [{}]},
          "mark": {"type": "text", "text": "feet", "font": "Liberation Sans", "fontSize": 20, "fontStyle": "italic", "angle": 270, "align": "center", "baseline": "middle", "color": "#000"},
          "encoding": {"x": {"datum": 2019.74, "type": "quantitative"}, "y": {"datum": -1.487, "type": "quantitative"}}
        }
      ]
    }
  ]
}
